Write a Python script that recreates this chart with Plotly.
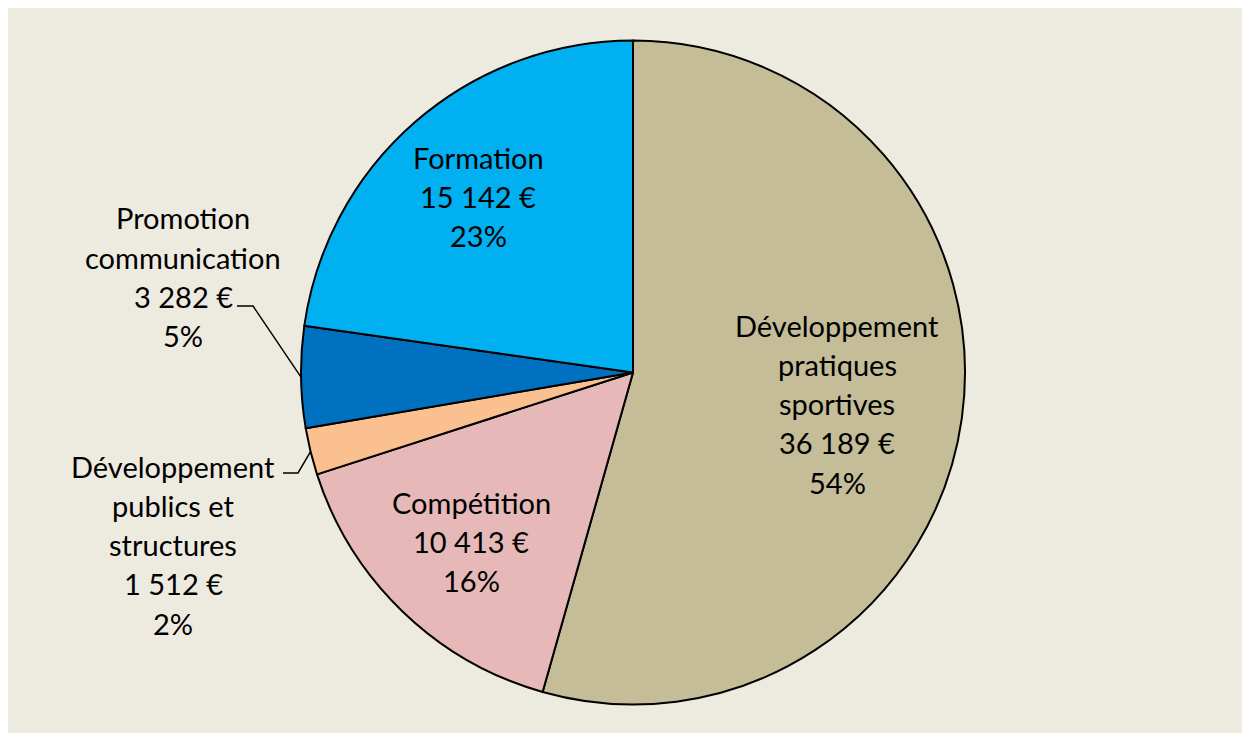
import math
import plotly.graph_objects as go

W, H = 1250, 733
OFF = 8  # page body margin offset

categories = ["Développement<br>pratiques<br>sportives", "Compétition",
              "Développement<br>publics et<br>structures",
              "Promotion<br>communication", "Formation"]
values = [36189, 10413, 1512, 3282, 15142]
amount_labels = ["36 189 €", "10 413 €", "1 512 €", "3 282 €", "15 142 €"]
pct_labels = ["54%", "16%", "2%", "5%", "23%"]
colors = ["#C4BD97", "#E6B9B8", "#FAC090", "#0070C0", "#00B0F0"]

# label positions (screen pixels): center x, first line center y
label_pos = [(837, 325), (471, 502), (173, 466), (183, 218), (478, 157)]
LINE_H = 39.3

CX, CY, R = 633, 372.5, 332


def px(x):
    return (x - OFF) / W


def py(y):
    return 1 - (y - OFF) / H


fig = go.Figure()
fig.add_trace(go.Pie(
    labels=[c.replace("<br>", " ") for c in categories],
    values=values,
    sort=False,
    direction="clockwise",
    rotation=0,
    marker=dict(colors=colors, line=dict(color="black", width=2)),
    textinfo="none",
    hoverinfo="label+value+percent",
    showlegend=False,
    domain=dict(x=[px(CX - R), px(CX + R)], y=[py(CY + R), py(CY - R)]),
))

font = dict(family="Lato, Calibri, sans-serif", size=29, color="black")
annotations = []
for cat, amt, pct, (lx, ly) in zip(categories, amount_labels, pct_labels, label_pos):
    lines = cat.split("<br>") + [amt, pct]
    for i, line in enumerate(lines):
        annotations.append(dict(
            x=px(lx), y=py(ly + i * LINE_H), xref="paper", yref="paper",
            text=line, showarrow=False, font=font,
            xanchor="center", yanchor="middle"))

# leader lines for the two small outside labels
total = sum(values)
cum = 0
mids = []
for v in values:
    mids.append((cum + v / 2) / total * 360)
    cum += v

shapes = []
leaders = {3: (237, 253, 306), 2: (283, 298, 473)}
for idx, (xa, xb, yy) in leaders.items():
    ang = math.radians(mids[idx])
    ex = CX + R * math.sin(ang)
    ey = CY - R * math.cos(ang)
    path = f"M {px(xa)},{py(yy)} L {px(xb)},{py(yy)} L {px(ex)},{py(ey)}"
    shapes.append(dict(type="path", xref="paper", yref="paper", path=path,
                       line=dict(color="black", width=1.5)))

fig.update_layout(
    width=W, height=H,
    margin=dict(l=0, r=0, t=0, b=0),
    paper_bgcolor="#EDEAE0",
    plot_bgcolor="#EDEAE0",
    annotations=annotations,
    shapes=shapes,
)

fig.write_html("out.html")
